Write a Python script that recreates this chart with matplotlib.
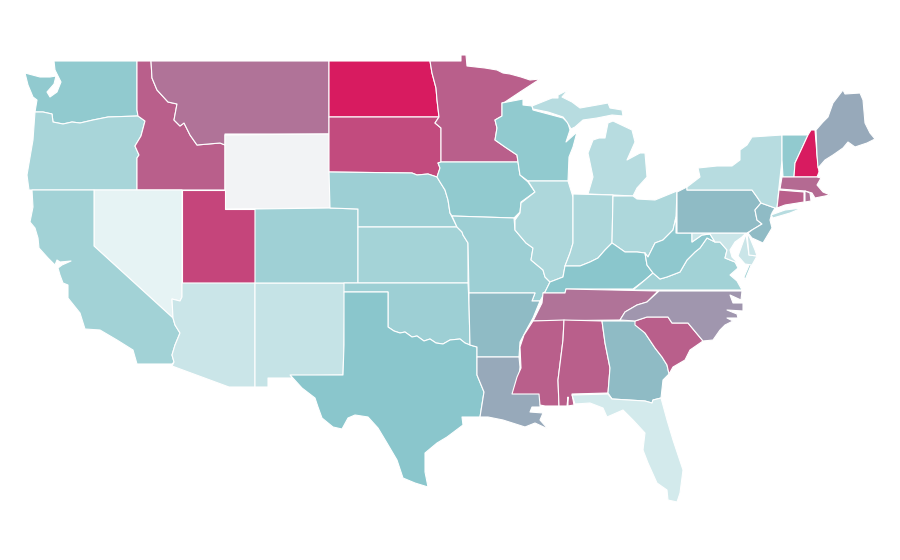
import numpy as np
import matplotlib
matplotlib.use("Agg")
import matplotlib.pyplot as plt
from matplotlib.collections import PolyCollection
from matplotlib.colors import LinearSegmentedColormap, Normalize

# State values (read from the fill colours, 0..1; NaN = no data)
state_values = {
 "WA":.37,"OR":.27,"CA":.30,"NV":.01,"ID":.76,"MT":.69,"WY":np.nan,"UT":.85,"AZ":.13,"CO":.31,"NM":.15,
 "ND":1.0,"SD":.83,"NE":.32,"KS":.29,"OK":.32,"TX":.40,"MN":.76,"IA":.37,"MO":.32,"AR":.44,"LA":.50,
 "WI":.37,"IL":.25,"MI":.21,"IN":.25,"OH":.25,"KY":.40,"TN":.69,"MS":.76,"AL":.76,"GA":.44,"FL":.09,
 "SC":.76,"NC":.57,"VA":.30,"WV":.38,"MD":.13,"DE":.13,"PA":.44,"NJ":.44,"NY":.21,"VT":.37,"NH":1.0,
 "ME":.50,"MA":.72,"CT":.76,"RI":.69,
}

# Shared wiggly border (TX / OK)
red_river = [(388,327),(394,331),(400,333),(405,332),(412,337),(417,336),(424,341),(430,339),(436,343),(443,344),(450,340),(460,339),(465,343),(470,345)]

# State outlines in map units
outlines = {
 "WA":[[(54,61),(55,70),(59,78),(61,82),(57,92),(50,97),(47,92),(54,84),(56,76),(50,77),(40,77),(25,73),(28,85),(33,97),(37,100),(35,112),(43,112),(52,114),(53,122),(63,124),(72,122),(80,123),(93,120),(108,117),(138,116),(137,110),(137,61)]],
 "OR":[[(35,112),(43,112),(52,114),(53,122),(63,124),(72,122),(80,123),(93,120),(108,117),(138,116),(145,121),(141,136),(135,146),(139,155),(137,158),(137,190),(29,190),(27,175),(33,140)]],
 "ID":[[(137,61),(151,61),(152,78),(157,90),(168,102),(177,104),(174,120),(180,126),(184,123),(190,135),(197,145),(220,143),(225,145),(225,190),(137,190),(137,158),(139,155),(135,146),(141,136),(145,121),(138,116),(137,110)]],
 "MT":[[(151,61),(329,61),(329,134),(225,134),(225,145),(220,143),(197,145),(190,135),(184,123),(180,126),(174,120),(177,104),(168,102),(157,90),(152,78)]],
 "WY":[[(225,135),(329,134),(330,208),(225,209)]],
 "UT":[[(182,190),(225,190),(225,209),(255,209),(255,283),(182,283)]],
 "NV":[[(94,190),(182,190),(182,297),(180,301),(172,299),(173,318),(94,246)]],
 "CA":[[(32,190),(94,190),(94,246),(173,318),(175,325),(180,333),(175,345),(172,355),(174,362),(172,364),(137,364),(133,350),(117,340),(100,330),(85,329),(80,313),(68,298),(68,285),(63,283),(60,275),(58,268),(62,265),(71,261),(60,262),(57,260),(55,265),(48,258),(39,248),(38,238),(35,228),(30,222),(33,207)]],
 "AZ":[[(182,283),(255,283),(255,387),(229,387),(172,366),(174,362),(172,355),(175,345),(180,333),(175,325),(173,318),(172,299),(180,301),(182,297)]],
 "NM":[[(255,283),(345,283),(344,345),(343,375),(291,376),(292,378),(268,378),(268,387),(255,387)]],
 "CO":[[(255,209),(330,208),(358,209),(358,283),(255,283)]],
 "ND":[[(329,61),(430,61),(432,73),(436,88),(437,100),(439,117),(329,117)]],
 "SD":[[(329,117),(439,117),(435,123),(441,128),(441,162),(438,163),(440,168),(437,177),(428,174),(417,175),(412,173),(329,172)]],
 "NE":[[(329,172),(412,173),(417,175),(428,174),(437,177),(440,182),(445,190),(448,200),(450,213),(457,227),(358,227),(358,209),(330,208)]],
 "KS":[[(358,227),(457,227),(462,232),(463,235),(468,243),(468,283),(358,283)]],
 "OK":[[(344,283),(468,283),(469,303)] + red_river[::-1] + [(388,292),(344,292)]],
 "TX":[[(344,292),(388,292)] + red_river + [(477,347),(477,375),(484,392),(480,417),(462,417),(463,425),(447,437),(437,443),(425,453),(425,472),(428,487),(415,483),(403,478),(397,460),(387,443),(378,428),(368,417),(355,415),(348,418),(342,429),(333,427),(322,418),(318,407),(315,398),(302,388),(292,377),(290,375),(343,375),(344,345)]],
 "MN":[[(430,61),(461,61),(461,55),(466,55),(467,66),(485,68),(497,70),(503,73),(510,74),(521,77),(530,80),(540,79),(520,92),(505,102),(502,103),(502,116),(495,120),(497,128),(495,140),(505,147),(517,155),(518,162),(441,162),(441,128),(435,123),(439,117),(437,100),(436,88),(432,73)]],
 "IA":[[(441,162),(518,162),(520,175),(528,182),(535,192),(521,202),(520,212),(514,218),(452,216),(450,213),(448,200),(445,190),(440,182),(437,177),(440,168),(438,163)]],
 "MO":[[(452,216),(514,218),(515,230),(526,243),(533,248),(531,260),(543,270),(545,277),(550,282),(545,292),(540,301),(532,301),(535,293),(469,293),(468,243),(463,235),(462,232),(457,227)]],
 "AR":[[(469,293),(535,293),(532,301),(540,301),(533,318),(528,327),(520,342),(519,357),(477,357),(477,347),(470,345),(469,303)]],
 "LA":[[(477,357),(519,357),(520,367),(519,377),(513,393),(541,393),(540,407),(532,407),(530,412),(543,413),(540,420),(548,429),(535,423),(525,427),(503,420),(488,417),(480,417),(484,392),(477,375)]],
 "WI":[[(502,103),(523,99),(523,105),(532,106),(533,110),(563,118),(568,123),(570,130),(566,142),(577,132),(573,147),(569,157),(568,181),(528,181),(520,175),(518,162),(517,155),(505,147),(495,140),(497,128),(495,120),(502,116)]],
 "MI":[[(532,106),(552,98),(558,98),(558,95),(568,90),(562,97),(572,102),(580,108),(597,105),(608,103),(610,108),(622,110),(623,116),(612,115),(597,118),(583,120),(575,127),(571,129),(567,122),(563,117),(548,112),(533,109)],
       [(588,194),(613,195),(633,196),(637,188),(647,177),(645,153),(640,153),(627,160),(635,142),(632,130),(613,121),(608,123),(605,138),(599,138),(593,140),(588,153),(593,177)]],
 "IL":[[(528,181),(568,181),(573,197),(573,243),(570,253),(565,266),(563,277),(550,282),(545,277),(543,270),(531,260),(533,248),(526,243),(515,230),(515,220),(520,213),(521,203),(535,192)]],
 "IN":[[(573,194),(613,195),(612,243),(605,250),(598,258),(590,262),(580,266),(565,266),(570,253),(573,243)]],
 "OH":[[(613,196),(633,196),(637,199),(655,200),(677,191),(676,217),(673,230),(663,240),(655,243),(648,257),(645,253),(637,252),(625,252),(615,245),(612,243)]],
 "KY":[[(550,282),(563,277),(565,266),(580,266),(590,262),(598,258),(605,250),(612,243),(615,245),(625,252),(637,252),(645,253),(647,265),(653,273),(645,280),(633,289),(566,289),(565,293),(543,293),(545,292)]],
 "TN":[[(543,293),(565,293),(566,289),(658,291),(647,302),(637,305),(625,312),(620,320),(533,321),(542,303)]],
 "MS":[[(533,321),(564,320),(563,340),(558,380),(559,406),(545,406),(540,405),(539,394),(512,394),(517,377),(521,368),(520,347),(524,335)]],
 "AL":[[(564,320),(602,321),(605,343),(610,368),(608,393),(572,394),(574,405),(568,406),(568,397),(567,406),(559,406),(558,380),(563,340)]],
 "GA":[[(602,321),(635,321),(645,333),(655,348),(662,357),(667,365),(669,374),(663,380),(661,398),(653,400),(652,403),(645,401),(612,399),(608,393),(610,368),(605,343)]],
 "FL":[[(572,395),(608,394),(612,399),(645,401),(652,403),(653,400),(661,398),(667,420),(673,440),(683,470),(680,493),(677,502),(668,500),(667,490),(657,483),(648,463),(643,450),(645,433),(633,420),(623,410),(607,417),(603,408),(590,403),(575,404)]],
 "SC":[[(635,321),(647,317),(668,317),(672,323),(688,323),(703,341),(690,350),(685,360),(673,367),(669,374),(667,365),(662,357),(655,348),(645,333),(635,325)]],
 "NC":[[(659,291),(742,291),(741,300),(730,295),(733,303),(743,303),(743,311),(727,310),(737,314),(738,318),(727,318),(733,321),(725,325),(720,330),(713,340),(703,341),(688,323),(672,323),(668,317),(647,317),(635,321),(620,320),(625,312),(637,305),(647,302)]],
 "VA":[[(633,290),(645,280),(653,273),(660,279),(667,277),(680,272),(687,260),(695,252),(700,248),(707,238),(715,242),(720,242),(727,250),(725,258),(735,262),(738,268),(730,275),(737,281),(742,290)],
       [(752,263),(745,280),(744,277),(750,263)]],
 "WV":[[(655,243),(663,240),(673,230),(676,217),(676,233),(692,233),(692,242),(702,235),(710,234),(715,242),(707,238),(700,248),(695,252),(687,260),(680,272),(667,277),(660,279),(653,273),(647,265),(645,253),(648,257)]],
 "MD":[[(692,233),(746,233),(742,237),(735,242),(730,250),(732,257),(738,263),(735,262),(725,258),(727,250),(720,242),(715,242),(710,234),(702,235),(692,242)],
       [(746,234),(749,255),(757,256),(752,265),(745,264),(738,256),(742,245)]],
 "DE":[[(747,233),(750,238),(755,250),(757,256),(749,255)]],
 "PA":[[(677,192),(687,187),(687,190),(752,190),(757,197),(761,203),(755,210),(757,220),(762,224),(752,230),(747,233),(677,233)]],
 "NJ":[[(761,203),(775,208),(772,213),(770,220),(772,228),(763,243),(752,238),(748,233),(752,230),(762,224),(757,220),(755,210)]],
 "NY":[[(687,190),(687,187),(700,177),(698,168),(717,166),(732,166),(740,160),(740,150),(747,145),(752,137),(782,135),(782,160),(779,187),(777,208),(775,208),(761,203),(757,197),(752,190)],
       [(771,215),(785,210),(802,208),(790,213),(773,218)]],
 "VT":[[(782,135),(808,135),(802,148),(795,163),(794,177),(783,177),(782,160)]],
 "NH":[[(811,130),(815,130),(817,155),(819,172),(817,177),(794,177),(795,163),(802,148),(808,135)]],
 "ME":[[(816,130),(823,122),(828,117),(833,103),(843,90),(845,94),(860,93),(863,100),(865,123),(870,133),(875,139),(867,143),(855,147),(848,142),(843,148),(833,155),(825,160),(818,168),(817,155)]],
 "MA":[[(782,177),(817,177),(821,178),(817,185),(823,192),(830,195),(815,198),(812,193),(805,191),(780,189)]],
 "CT":[[(779,190),(804,192),(804,202),(785,205),(777,208)]],
 "RI":[[(805,191),(810,193),(811,201),(805,202)]],
}

# Colour scale stops
scale_stops = [0.0, 0.4, 1.0]
scale_colors = ["#e8f4f5", "#8ac6cc", "#d81b60"]

cmap = LinearSegmentedColormap.from_list("rate", list(zip(scale_stops, scale_colors)))
cmap.set_bad("#f2f3f5")

polys, vals = [], []
for name, rings in outlines.items():
    for ring in rings:
        polys.append(ring)
        vals.append(state_values[name])

fig = plt.figure(figsize=(9, 5.6), dpi=100)
ax = fig.add_axes([0, 0, 1, 1])
pc = PolyCollection(polys, array=np.ma.masked_invalid(vals), cmap=cmap,
                    norm=Normalize(0, 1), edgecolors="white", linewidths=0.8)
ax.add_collection(pc)
ax.set_xlim(0, 900)
ax.set_ylim(560, 0)
ax.axis("off")
fig.savefig("out.png", dpi=100, facecolor="white")
